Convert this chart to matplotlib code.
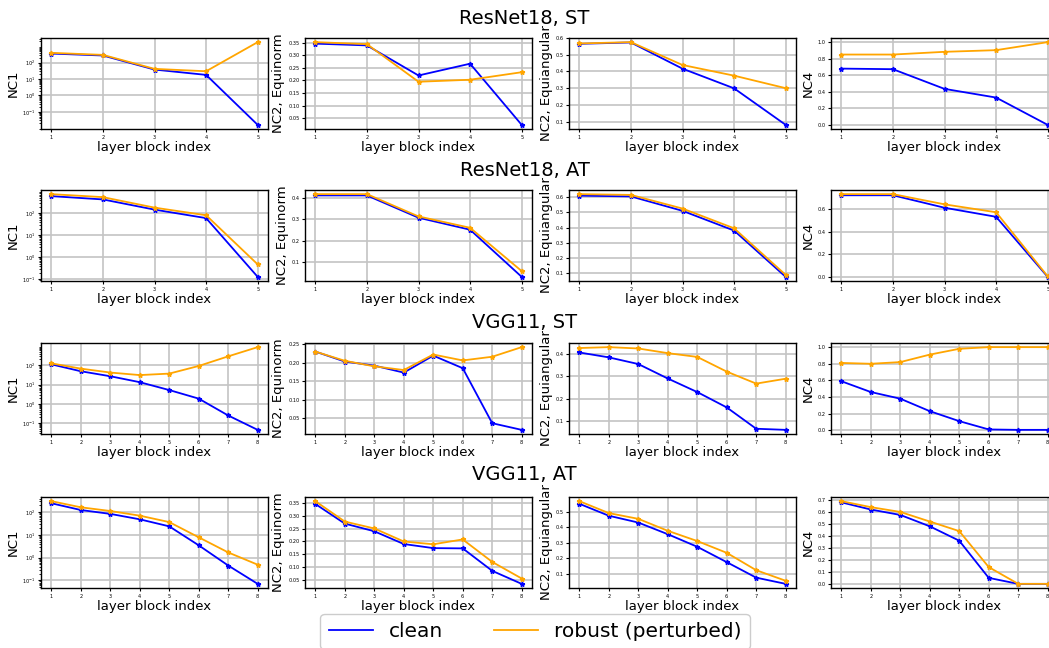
import numpy as np
import matplotlib
matplotlib.use("Agg")
import matplotlib.pyplot as plt
from matplotlib.lines import Line2D
from matplotlib.ticker import MaxNLocator

# ---- data (index = layer block) ----
ROW_TITLES = ["ResNet18, ST", "ResNet18, AT", "VGG11, ST", "VGG11, AT"]
METRICS = ["NC1", "NC2, Equinorm", "NC2, Equiangular", "NC4"]
NC1_TICKS = [0.1, 1, 10, 100]

# ResNet18, ST
r18st_nc1_clean = [360, 275, 38, 18, 0.016]
r18st_nc1_rob = [400, 300, 42, 30, 1800]
r18st_eqn_clean = [0.347, 0.340, 0.220, 0.267, 0.023]
r18st_eqn_rob = [0.353, 0.345, 0.195, 0.203, 0.233]
r18st_eqa_clean = [0.566, 0.574, 0.417, 0.299, 0.080]
r18st_eqa_rob = [0.568, 0.576, 0.439, 0.375, 0.300]
r18st_nc4_clean = [0.68, 0.673, 0.435, 0.33, 0.0]
r18st_nc4_rob = [0.85, 0.85, 0.883, 0.903, 1.0]

# ResNet18, AT
r18at_nc1_clean = [600, 425, 146, 60, 0.127]
r18at_nc1_rob = [740, 540, 180, 81, 0.47]
r18at_eqn_clean = [0.411, 0.411, 0.307, 0.251, 0.031]
r18at_eqn_rob = [0.417, 0.417, 0.313, 0.260, 0.058]
r18at_eqa_clean = [0.61, 0.605, 0.51, 0.38, 0.075]
r18at_eqa_rob = [0.62, 0.615, 0.525, 0.395, 0.088]
r18at_nc4_clean = [0.72, 0.72, 0.61, 0.53, 0.0]
r18at_nc4_rob = [0.73, 0.73, 0.64, 0.57, 0.005]

# VGG11, ST
vggst_nc1_clean = [112, 49, 27, 13.3, 5.2, 1.87, 0.25, 0.045]
vggst_nc1_rob = [126, 67, 42, 31, 37, 92, 290, 870]
vggst_eqn_clean = [0.230, 0.203, 0.192, 0.173, 0.219, 0.185, 0.036, 0.018]
vggst_eqn_rob = [0.230, 0.205, 0.190, 0.180, 0.222, 0.206, 0.216, 0.242]
vggst_eqa_clean = [0.408, 0.386, 0.356, 0.291, 0.230, 0.161, 0.065, 0.060]
vggst_eqa_rob = [0.428, 0.432, 0.426, 0.405, 0.388, 0.322, 0.268, 0.290]
vggst_nc4_clean = [0.59, 0.46, 0.38, 0.23, 0.11, 0.01, 0.005, 0.005]
vggst_nc4_rob = [0.81, 0.80, 0.82, 0.91, 0.98, 1.0, 1.0, 1.0]

# VGG11, AT
vggat_nc1_clean = [250, 126, 85, 49, 24, 3.5, 0.45, 0.07]
vggat_nc1_rob = [310, 166, 114, 71, 37, 7.9, 1.7, 0.49]
vggat_eqn_clean = [0.347, 0.270, 0.240, 0.190, 0.174, 0.173, 0.085, 0.034]
vggat_eqn_rob = [0.358, 0.278, 0.251, 0.200, 0.189, 0.208, 0.120, 0.055]
vggat_eqa_clean = [0.550, 0.473, 0.429, 0.354, 0.273, 0.174, 0.074, 0.034]
vggat_eqa_rob = [0.567, 0.490, 0.453, 0.376, 0.310, 0.234, 0.122, 0.054]
vggat_nc4_clean = [0.68, 0.62, 0.575, 0.48, 0.36, 0.05, 0.0, 0.0]
vggat_nc4_rob = [0.69, 0.64, 0.60, 0.52, 0.44, 0.14, 0.0, 0.0]

ROWS = [
    [(r18st_nc1_clean, r18st_nc1_rob), (r18st_eqn_clean, r18st_eqn_rob),
     (r18st_eqa_clean, r18st_eqa_rob), (r18st_nc4_clean, r18st_nc4_rob)],
    [(r18at_nc1_clean, r18at_nc1_rob), (r18at_eqn_clean, r18at_eqn_rob),
     (r18at_eqa_clean, r18at_eqa_rob), (r18at_nc4_clean, r18at_nc4_rob)],
    [(vggst_nc1_clean, vggst_nc1_rob), (vggst_eqn_clean, vggst_eqn_rob),
     (vggst_eqa_clean, vggst_eqa_rob), (vggst_nc4_clean, vggst_nc4_rob)],
    [(vggat_nc1_clean, vggat_nc1_rob), (vggat_eqn_clean, vggat_eqn_rob),
     (vggat_eqa_clean, vggat_eqa_rob), (vggat_nc4_clean, vggat_nc4_rob)],
]

W, H = 1049, 648
fig = plt.figure(figsize=(W / 100, H / 100), dpi=100)

# axes boxes in pixels (left, top); the last column runs past the right edge
COL_X = [41, 305, 569, 831]
ROW_Y = [38, 190, 343, 497]
AX_W, AX_H = 227, 91
TITLE_Y = [18, 170, 322, 475]

for r, row in enumerate(ROWS):
    fig.text(0.5, 1 - TITLE_Y[r] / H, ROW_TITLES[r], ha="center", va="center", fontsize=14)
    for c, (clean, rob) in enumerate(row):
        ax = fig.add_axes([COL_X[c] / W, 1 - (ROW_Y[r] + AX_H) / H, AX_W / W, AX_H / H])
        x = np.arange(1, len(clean) + 1)
        ax.plot(x, clean, color="blue", lw=1.3, marker="*", ms=3.5)
        ax.plot(x, rob, color="orange", lw=1.3, marker="*", ms=3.5)
        if c == 0:
            ax.set_yscale("log")
            ax.set_yticks(NC1_TICKS)
        else:
            ax.yaxis.set_major_locator(MaxNLocator(nbins=8, steps=[1, 2, 2.5, 5, 10]))
        ax.set_xticks(x)
        ax.set_xlabel("layer block index", fontsize=9.5, labelpad=1)
        ax.set_ylabel(METRICS[c], fontsize=9.5, labelpad=2)
        ax.tick_params(labelsize=3.6, length=2, pad=2)
        ax.tick_params(which="minor", length=1.2)
        ax.grid(True, color="#c4c4c4", linewidth=1.2)
        ax.set_axisbelow(True)
        for s in ax.spines.values():
            s.set_linewidth(1.0)

handles = [Line2D([], [], color="blue", lw=1.3), Line2D([], [], color="orange", lw=1.3)]
fig.legend(handles, ["clean", "robust (perturbed)"], loc="upper center",
           bbox_to_anchor=(535 / W, 1 - 614 / H), borderaxespad=0, ncol=2, fontsize=14.5,
           handlelength=2.2, columnspacing=2.5, framealpha=1)

fig.savefig("out.png", dpi=100)
